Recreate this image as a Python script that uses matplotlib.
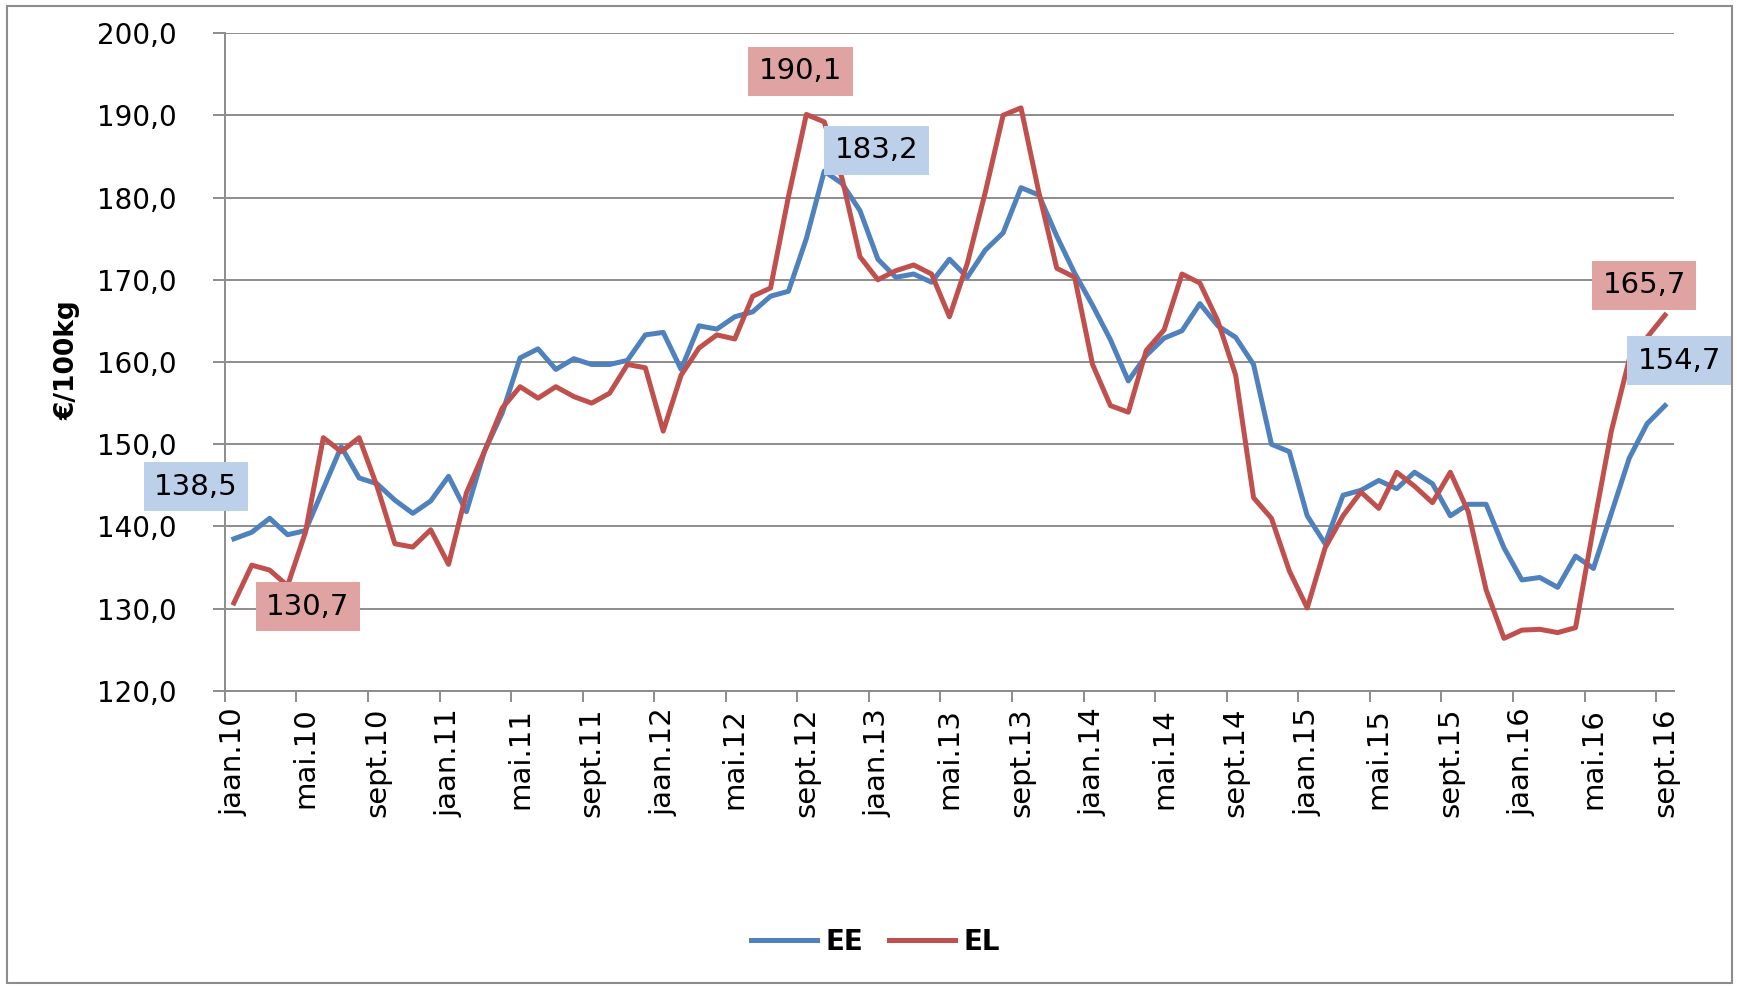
import matplotlib
matplotlib.use('Agg')
import matplotlib.pyplot as plt
from matplotlib.patches import Rectangle

# monthly prices, jan.10 .. sept.16 (EUR / 100 kg)
months = ['jaan', 'veebr', 'märts', 'apr', 'mai', 'juuni',
          'juuli', 'aug', 'sept', 'okt', 'nov', 'dets']
years = ['10', '11', '12', '13', '14', '15', '16']
labels = [m + '.' + y for y in years for m in months][:81]

ee = [138.5, 139.3, 141.0, 139.0, 139.5, 144.6, 149.7, 145.9, 145.2, 143.2,
      141.6, 143.1, 146.1, 141.8, 149.1, 153.8, 160.5, 161.6, 159.1, 160.4,
      159.7, 159.7, 160.2, 163.3, 163.6, 159.1, 164.4, 164.0, 165.5, 166.1,
      168.0, 168.6, 175.0, 183.2, 181.7, 178.4, 172.5, 170.3, 170.7, 169.7,
      172.5, 170.3, 173.6, 175.7, 181.2, 180.3, 175.3, 170.8, 166.9, 162.7,
      157.7, 160.8, 162.9, 163.8, 167.1, 164.4, 163.0, 159.7, 150.0, 149.1,
      141.3, 137.9, 143.8, 144.4, 145.6, 144.6, 146.6, 145.2, 141.3, 142.7,
      142.7, 137.4, 133.5, 133.8, 132.6, 136.4, 134.9, 141.6, 148.3, 152.5,
      154.7]
el = [130.7, 135.3, 134.7, 132.8, 139.3, 150.8, 149.1, 150.8, 144.9, 137.9,
      137.5, 139.6, 135.4, 144.1, 149.1, 154.4, 157.0, 155.6, 157.0, 155.8,
      155.0, 156.2, 159.7, 159.3, 151.6, 158.4, 161.7, 163.3, 162.8, 168.0,
      169.0, 180.1, 190.1, 189.2, 182.3, 172.8, 170.0, 171.1, 171.8, 170.7,
      165.5, 172.0, 180.6, 190.0, 190.9, 180.6, 171.4, 170.3, 159.7, 154.7,
      153.9, 161.4, 163.9, 170.7, 169.6, 165.0, 158.4, 143.5, 141.0, 134.6,
      130.1, 137.4, 141.3, 144.2, 142.2, 146.6, 144.9, 142.9, 146.6, 141.8,
      132.3, 126.4, 127.4, 127.5, 127.1, 127.7, 139.9, 151.6, 160.3, 163.0,
      165.7]

c_ee = '#4F81BD'
c_el = '#C0504D'
grid_c = '#8C8C8C'

plt.rcParams['font.family'] = ['DejaVu Sans']

fig = plt.figure(figsize=(17.37, 9.86), dpi=100)
ax = fig.add_axes([0.1295, 0.2992, 0.8342, 0.6673])

x = [i + 0.5 for i in range(len(ee))]
ax.plot(x, ee, color=c_ee, lw=3.6, label='EE', solid_joinstyle='round', zorder=3)
ax.plot(x, el, color=c_el, lw=3.6, label='EL', solid_joinstyle='round', zorder=3)

ax.set_xlim(0, 81)
ax.set_ylim(120, 200)
ax.set_yticks(range(120, 201, 10))
ax.set_yticklabels([f'{v},0' for v in range(120, 201, 10)], fontsize=20)
ax.yaxis.grid(True, color=grid_c, lw=1.4)
ax.set_axisbelow(True)

# major ticks at category boundaries, labels on the categories
ax.set_xticks(range(0, 81, 4))
ax.set_xticklabels([])
ax.set_xticks([i + 0.5 for i in range(0, 81, 4)], minor=True)
ax.set_xticklabels([labels[i] for i in range(0, 81, 4)], minor=True,
                   rotation=90, fontsize=21)
ax.tick_params(axis='x', which='major', length=8, color=grid_c, width=1.4)
ax.tick_params(axis='x', which='minor', length=0, pad=12)
ax.tick_params(axis='y', length=9, color=grid_c, width=1.4, pad=26)

for s in ['top', 'right']:
    ax.spines[s].set_visible(False)
for s in ['left', 'bottom']:
    ax.spines[s].set_color(grid_c)
    ax.spines[s].set_linewidth(1.4)

ax.set_ylabel('€/100kg', fontsize=19, fontweight='bold')
ax.yaxis.set_label_coords(-0.100, 0.503)

# data labels
red_box = dict(boxstyle='square,pad=0.36', fc='#DFA3A2', ec='none')
blue_box = dict(boxstyle='square,pad=0.36', fc='#BCD0EA', ec='none')
notes = [
    (0, ee, blue_box, (-38, 52)),
    (0, el, red_box, (74, -4)),
    (32, el, red_box, (-6, 43)),
    (33, ee, blue_box, (52, 21)),
    (80, el, red_box, (-21, 30)),
    (80, ee, blue_box, (14, 45)),
]
for i, ser, box, off in notes:
    ax.annotate(f'{ser[i]:.1f}'.replace('.', ','), xy=(x[i], ser[i]),
                xytext=off, textcoords='offset pixels', ha='center', va='center',
                fontsize=21, bbox=box, zorder=5, annotation_clip=False)

leg = fig.legend(loc='center', bbox_to_anchor=(0.504, 0.0446), ncol=2, frameon=False,
                 fontsize=20, handlelength=2.4, columnspacing=0.9, handletextpad=0.3)
for t in leg.get_texts():
    t.set_fontweight('bold')

fig.patches.append(Rectangle((0.004, 0.003), 0.993, 0.991, transform=fig.transFigure,
                             fill=False, ec='#8C8C8C', lw=1.5))

fig.savefig('out.png', dpi=100)
